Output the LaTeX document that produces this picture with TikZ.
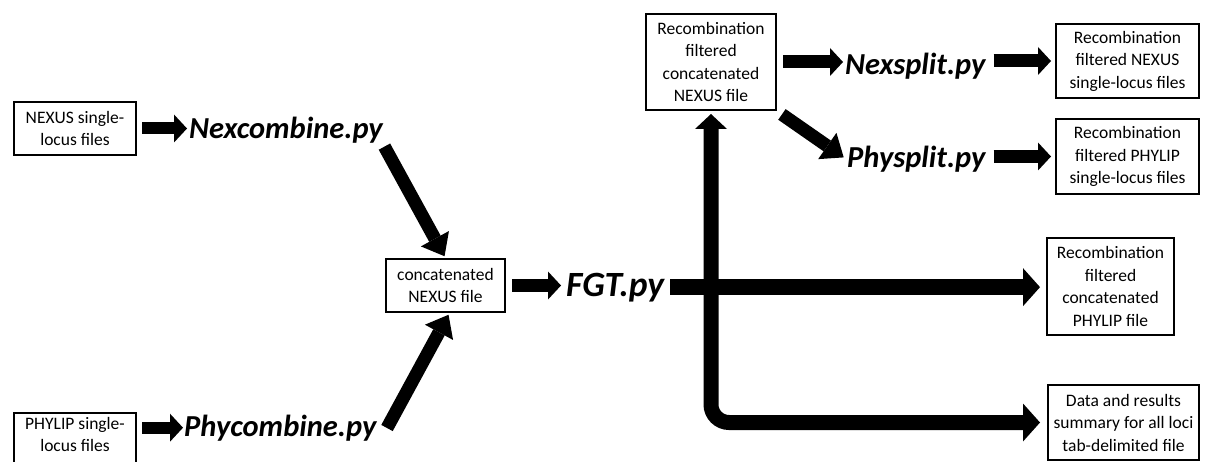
\documentclass[tikz,border=0pt]{standalone}
\usepackage{fontspec}
\setmainfont{Carlito}
\usetikzlibrary{arrows.meta}
\newcommand\boxfont{\fontsize{17.5}{22.5}\selectfont}
\newcommand\toolfont{\fontsize{30.5}{36}\selectfont\bfseries\itshape}
\newcommand\bigtoolfont{\fontsize{35.5}{42}\selectfont\bfseries\itshape}
\tikzset{
  box/.style={draw, line width=2pt, align=center, inner sep=0pt, font=\boxfont},
  tool/.style={inner sep=0pt, anchor=base west, font=\toolfont},
  flow/.style={line width=12pt, -{Triangle[length=13pt,width=28pt,line width=0pt]}},
  slant/.style={line width=13pt, -{Triangle[length=20pt,width=32pt,line width=0pt]}},
  trunk/.style={line width=16pt, -{Triangle[length=17pt,width=38pt,line width=0pt]}},
}
\begin{document}
\begin{tikzpicture}[x=1pt,y=-1pt]
\useasboundingbox (0,0) rectangle (1215,462);

% input files
\node[box, minimum width=122pt, minimum height=53pt] (nexin) at (75,128.5) {NEXUS single-\\locus files};
\node[box, minimum width=122pt, anchor=north, inner ysep=4pt, text depth=32pt] (phyin) at (75,412) {PHYLIP single-\\locus files};

% scripts
\node[tool] (nexcomb) at (189,139) {Nexcombine.py};
\node[tool] (phycomb) at (184,436) {Phycombine.py};
\node[tool, font=\bigtoolfont] (fgt) at (566,296) {FGT.py};
\node[tool] (nexsplit) at (845,75) {Nexsplit.py};
\node[tool] (physplit) at (847,168) {Physplit.py};

% intermediate and output files
\node[box, minimum width=119pt, minimum height=53pt] (concat) at (445.5,285.5) {concatenated\\NEXUS file};
\node[box, minimum width=130pt, minimum height=96pt] (recomb) at (711,62) {Recombination\\filtered\\concatenated\\NEXUS file};
\node[box, minimum width=143pt, minimum height=74pt] (nexout) at (1127.5,61) {Recombination\\filtered NEXUS\\single-locus files};
\node[box, minimum width=143pt, minimum height=75pt] (phyout) at (1127.5,156.5) {Recombination\\filtered PHYLIP\\single-locus files};
\node[box, minimum width=127pt, minimum height=97pt] (phycat) at (1110.5,286.5) {Recombination\\filtered\\concatenated\\PHYLIP file};
\node[box, minimum width=151pt, minimum height=75pt] (data) at (1123.5,422.5) {Data and results\\summary for all loci\\tab-delimited file};

% combining step
\draw[flow, shorten <=5pt, shorten >=2pt] (nexin.east) -- (nexin.east -| nexcomb.west);
\draw[flow, shorten <=5pt, shorten >=1pt] (phycomb.west -| phyin.east) -- (phycomb.west);
\draw[slant, shorten <=3pt, shorten >=2pt] (nexcomb.south east) -- (concat.north);
\coordinate (pctail) at (387,428);
\draw[slant, shorten >=2pt] (pctail) -- ([xshift=4pt]concat.south);
\draw[flow, line width=13pt, shorten <=6pt, shorten >=5pt] (concat.east) -- (concat.east -| fgt.west);

% filtering step
\draw[trunk, shorten <=6pt, shorten >=6pt] (fgt.east) -- (fgt.east -| phycat.west);
\draw[trunk, line width=15pt,
      arrows={Triangle[length=15pt,width=32pt,line width=0pt]-Triangle[length=17pt,width=38pt,line width=0pt]},
      rounded corners=18pt, shorten <=3pt, shorten >=7pt]
  (recomb.south) -- (recomb.south |- data.west) -- (data.west);

% splitting step
\draw[flow, line width=13pt, shorten <=6pt, shorten >=2pt] (recomb.east) -- (recomb.east -| nexsplit.west);
\draw[slant, shorten <=6pt, shorten >=4pt] (recomb.south east) -- (physplit.west);
\draw[flow, line width=13pt, shorten <=8pt, shorten >=4pt] (nexout.west -| nexsplit.east) -- (nexout.west);
\draw[flow, line width=13pt, shorten <=8pt, shorten >=4pt] (phyout.west -| physplit.east) -- (phyout.west);
\end{tikzpicture}
\end{document}
